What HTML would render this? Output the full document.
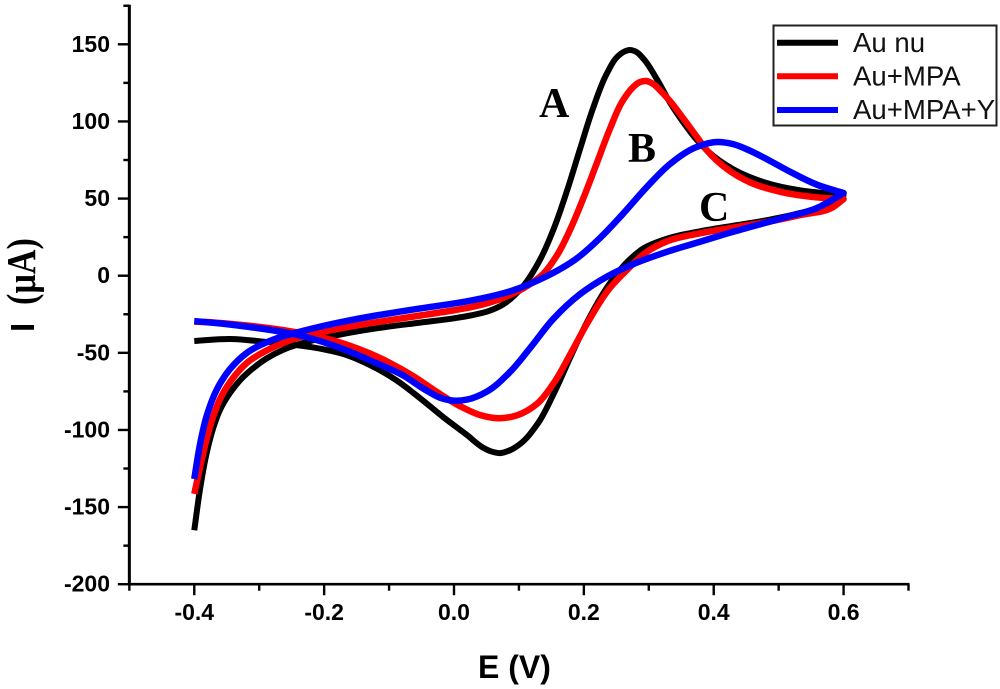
<!DOCTYPE html>
<html>
<head>
<meta charset="utf-8">
<title>Cyclic voltammogram</title>
<style>
html,body{margin:0;padding:0;background:#fff;}
svg{display:block;}
text{fill:#000;}
.tick{font:bold 23px "Liberation Sans",sans-serif;}
.let{font:bold 42px "Liberation Serif",serif;}
.leg{font:27.6px "Liberation Sans",sans-serif;fill:#111;}
</style>
</head>
<body>
<svg id="chart" width="1000" height="689" viewBox="0 0 1000 689" xmlns="http://www.w3.org/2000/svg">
  <g id="marks"></g>
  <g id="axes"></g>
  <text x="478" y="678" style="font:bold 32px 'Liberation Sans',sans-serif">E (V)</text>
  <text transform="translate(34 332) rotate(-90)" style="font:bold 33px 'Liberation Sans',sans-serif">I</text>
  <text transform="translate(35 305) rotate(-90) scale(1 1.22)" style="font:bold 34px 'Liberation Serif',serif">(µA)</text>
  <text class="let" x="539" y="117">A</text>
  <text class="let" x="628" y="162">B</text>
  <text class="let" x="699" y="221">C</text>
  <g>
    <rect x="773.5" y="25.5" width="223" height="100" fill="#fff" stroke="#222" stroke-width="2"/>
    <line x1="777" x2="838" y1="42.7" y2="42.7" stroke="#000" stroke-width="6"/>
    <line x1="777" x2="838" y1="76.3" y2="76.3" stroke="#f00" stroke-width="6"/>
    <line x1="777" x2="838" y1="110" y2="110" stroke="#00f" stroke-width="6"/>
    <text class="leg" x="853" y="52">Au nu</text>
    <text class="leg" x="853" y="85.5">Au+MPA</text>
    <text class="leg" x="853" y="119">Au+MPA+Y</text>
  </g>
</svg>
<script>
const xMajorTicks = [-0.4, -0.2, 0.0, 0.2, 0.4, 0.6];
const xMinorTicks = [-0.5, -0.3, -0.1, 0.1, 0.3, 0.5, 0.7];
const yMajorTicks = [150, 100, 50, 0, -50, -100, -150, -200];
const yMinorTicks = [175, 125, 75, 25, -25, -75, -125, -175];

const blackE = [-0.400,-0.391,-0.382,-0.371,-0.361,-0.345,-0.330,-0.308,-0.288,-0.263,-0.237,-0.206,-0.176,-0.114,-0.052,0.000,0.025,0.055,0.075,0.106,0.133,0.153,0.174,0.194,0.214,0.236,0.251,0.262,0.271,0.281,0.291,0.313,0.333,0.353,0.374,0.390,0.430,0.482,0.533,0.584,0.600,
  0.584,0.533,0.482,0.430,0.379,0.328,0.291,0.267,0.240,0.205,0.179,0.153,0.128,0.102,0.086,0.071,0.058,0.045,0.020,-0.017,-0.052,-0.088,-0.129,-0.165,-0.217,-0.242,-0.288,-0.345,-0.400];
const blackI = [-165,-138,-117,-99,-87.5,-76,-68,-59.5,-53.5,-48,-44.2,-40.8,-38.2,-33.8,-30.4,-27.6,-25.8,-22.7,-18.8,-7,10.8,29.8,55,82,108.4,131.5,141.7,145.2,146.3,145,141,127,112,99.5,88,81,69,60,55.3,53,52.3,
  47,40.6,36,32.4,28.8,24,17.5,9,-5,-30,-53,-77,-96.5,-109,-113.2,-115,-114,-111.5,-103.3,-91.5,-79.5,-68,-58,-51.5,-46.5,-45,-43,-41,-42.3];

const redE = [-0.400,-0.391,-0.381,-0.371,-0.361,-0.345,-0.319,-0.279,-0.242,-0.206,-0.165,-0.114,-0.052,0.000,0.025,0.075,0.117,0.137,0.159,0.179,0.199,0.220,0.240,0.260,0.276,0.286,0.296,0.306,0.320,0.333,0.353,0.374,0.390,0.421,0.456,0.507,0.559,0.600,
  0.584,0.533,0.482,0.430,0.379,0.328,0.297,0.267,0.240,0.205,0.179,0.153,0.128,0.097,0.068,0.040,0.009,-0.026,-0.063,-0.099,-0.129,-0.165,-0.206,-0.248,-0.319,-0.371,-0.400];
const redI = [-141.5,-124,-106,-91.5,-80.5,-69,-56.5,-46.5,-40.5,-36.8,-33.4,-29.8,-25.8,-22.4,-20.5,-14.5,-5.5,1,13.5,30,50,73,95,113.5,122.3,125.5,126.2,124.5,119,113,102,90,81,69,60.5,54,50.8,49.7,
  44.5,39.3,34.8,31.2,27.5,22.3,15.5,4,-8,-31,-51,-70,-83,-90.5,-92.4,-90.3,-84.5,-75.5,-65,-56.5,-50.5,-44.7,-39.7,-36.3,-32.3,-30.3,-29.8];

const blueE = [-0.400,-0.391,-0.381,-0.365,-0.345,-0.319,-0.279,-0.242,-0.206,-0.165,-0.114,-0.052,0.000,0.025,0.091,0.137,0.190,0.225,0.260,0.297,0.333,0.374,0.405,0.430,0.456,0.482,0.518,0.559,0.600,
  0.559,0.507,0.430,0.379,0.328,0.276,0.236,0.194,0.153,0.117,0.086,0.051,0.020,0.000,-0.020,-0.042,-0.079,-0.129,-0.165,-0.217,-0.248,-0.319,-0.371,-0.400];
const blueI = [-131.8,-109,-91,-73.5,-60.5,-50,-41.5,-36.8,-33,-29.3,-25.4,-21.2,-18,-16.2,-9.5,-1.5,11.5,24.5,40,57.5,72.5,83.5,86.7,85.3,81,75.5,67.3,59,53.6,
  43.9,37.5,28.5,22,15.5,7.5,-0.5,-12,-28,-47,-62.5,-75,-80.3,-81,-79.3,-74.5,-64.5,-55,-48.5,-41,-37.8,-33,-30.5,-29.4];

const NS = 'http://www.w3.org/2000/svg';
function xScale(v){ return 454 + v * 649.3; }
function yScale(v){ return 275.7 - v * 1.5426; }

function smoothPath(E, I){
  const p = E.map((e, i) => [xScale(e), yScale(I[i])]);
  const n = p.length;
  const chord = [];
  for (let i = 0; i < n - 1; i++){
    chord.push(Math.hypot(p[i + 1][0] - p[i][0], p[i + 1][1] - p[i][1]));
  }
  // the sweep reverses direction at the vertex, which stays a sharp corner
  const isTurn = i => i > 0 && i < n - 1 && (p[i + 1][0] - p[i][0]) * (p[i][0] - p[i - 1][0]) < 0;
  const tanOut = [], tanIn = [];
  for (let i = 0; i < n; i++){
    let t;
    if (i === 0){
      t = [(p[1][0] - p[0][0]) / chord[0], (p[1][1] - p[0][1]) / chord[0]];
      tanOut.push(t); tanIn.push(t);
    } else if (i === n - 1){
      t = [(p[i][0] - p[i - 1][0]) / chord[i - 1], (p[i][1] - p[i - 1][1]) / chord[i - 1]];
      tanOut.push(t); tanIn.push(t);
    } else if (isTurn(i)){
      tanIn.push([(p[i][0] - p[i - 1][0]) / chord[i - 1], (p[i][1] - p[i - 1][1]) / chord[i - 1]]);
      tanOut.push([(p[i + 1][0] - p[i][0]) / chord[i], (p[i + 1][1] - p[i][1]) / chord[i]]);
    } else {
      const a = chord[i - 1], b = chord[i];
      t = [
        (((p[i][0] - p[i - 1][0]) / a) * b + ((p[i + 1][0] - p[i][0]) / b) * a) / (a + b),
        (((p[i][1] - p[i - 1][1]) / a) * b + ((p[i + 1][1] - p[i][1]) / b) * a) / (a + b)
      ];
      tanOut.push(t); tanIn.push(t);
    }
  }
  let d = 'M' + p[0][0].toFixed(2) + ' ' + p[0][1].toFixed(2);
  for (let i = 0; i < n - 1; i++){
    const h = chord[i] / 3;
    d += 'C' + (p[i][0] + tanOut[i][0] * h).toFixed(2) + ' ' + (p[i][1] + tanOut[i][1] * h).toFixed(2) +
         ' ' + (p[i + 1][0] - tanIn[i + 1][0] * h).toFixed(2) + ' ' + (p[i + 1][1] - tanIn[i + 1][1] * h).toFixed(2) +
         ' ' + p[i + 1][0].toFixed(2) + ' ' + p[i + 1][1].toFixed(2);
  }
  return d;
}

const marks = document.getElementById('marks');
const axes = document.getElementById('axes');

function drawCurve(E, I, color, width, name){
  const path = document.createElementNS(NS, 'path');
  path.setAttribute('d', smoothPath(E, I));
  path.setAttribute('fill', 'none');
  path.setAttribute('stroke', color);
  path.setAttribute('stroke-width', width);
  path.setAttribute('stroke-linejoin', 'round');
  
  
  marks.appendChild(path);
}
drawCurve(blackE, blackI, '#000', 6, 'curve-au-nu');
drawCurve(redE, redI, '#f00', 6.5, 'curve-au-mpa');
drawCurve(blueE, blueI, '#00f', 6.5, 'curve-au-mpa-y');

function axisLine(x1, y1, x2, y2, w, name){
  const l = document.createElementNS(NS, 'line');
  l.setAttribute('x1', x1);
  l.setAttribute('y1', y1);
  l.setAttribute('x2', x2);
  l.setAttribute('y2', y2);
  l.setAttribute('stroke', '#000');
  l.setAttribute('stroke-width', w);
  
  
  axes.appendChild(l);
}
function tickLabel(x, y, anchor, str, name){
  const t = document.createElementNS(NS, 'text');
  t.setAttribute('x', x);
  t.setAttribute('y', y);
  t.setAttribute('text-anchor', anchor);
  t.setAttribute('class', 'tick');
  t.textContent = str;
  
  
  axes.appendChild(t);
}

axisLine(xScale(-0.5), yScale(175) - 1, xScale(-0.5), yScale(-200) + 1, 3, 'y-axis-line');
axisLine(xScale(-0.5) - 1, yScale(-200), xScale(0.7) + 1, yScale(-200), 2.6, 'x-axis-line');

xMajorTicks.forEach(v => {
  axisLine(xScale(v), yScale(-200), xScale(v), yScale(-200) + 11, 2.4, 'x-major-tick');
  tickLabel(xScale(v), 620, 'middle', v.toFixed(1), 'x-tick-label');
});
xMinorTicks.forEach(v => {
  axisLine(xScale(v), yScale(-200), xScale(v), yScale(-200) + 6.5, 2.4, 'x-minor-tick');
});
yMajorTicks.forEach(v => {
  axisLine(xScale(-0.5), yScale(v), xScale(-0.5) - 11.5, yScale(v), 2.4, 'y-major-tick');
  tickLabel(110, yScale(v) + 7.5, 'end', String(v), 'y-tick-label');
});
yMinorTicks.forEach(v => {
  axisLine(xScale(-0.5), yScale(v), xScale(-0.5) - 6, yScale(v), 2.4, 'y-minor-tick');
});
</script>
</body>
</html>
